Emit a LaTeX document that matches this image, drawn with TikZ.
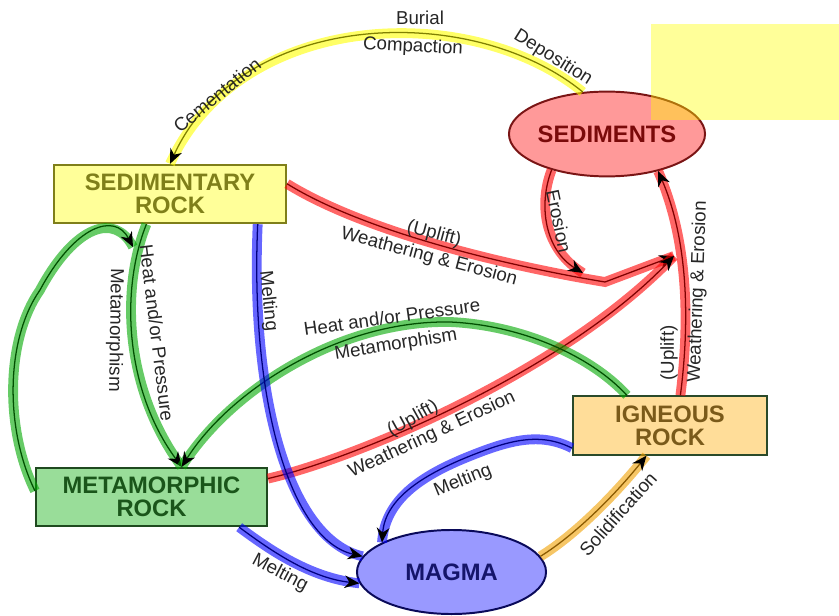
\documentclass[tikz,border=0pt]{standalone}
\usepackage{fontspec}
\setmainfont{Liberation Sans}
\usetikzlibrary{shapes.geometric, arrows.meta}
\definecolor{sedifill}{HTML}{FF9999}
\definecolor{sediline}{HTML}{7A1515}
\definecolor{seditext}{HTML}{7A0A0A}
\definecolor{sedrockfill}{HTML}{FFFF99}
\definecolor{sedrockline}{HTML}{7F7F1A}
\definecolor{metafill}{HTML}{99DD99}
\definecolor{metaline}{HTML}{1F4A1F}
\definecolor{metatext}{HTML}{1A551A}
\definecolor{ignfill}{HTML}{FFDD99}
\definecolor{ignline}{HTML}{2A4A2A}
\definecolor{igntext}{HTML}{7A5A1A}
\definecolor{magmafill}{HTML}{9999FF}
\definecolor{magmaline}{HTML}{0A0A5A}
\definecolor{magmatext}{HTML}{15156A}
\definecolor{bandyellow}{HTML}{FFFF00}
\definecolor{coreyellow}{HTML}{808000}
\definecolor{bandred}{HTML}{FF0000}
\definecolor{corered}{HTML}{800000}
\definecolor{bandgreen}{HTML}{00A800}
\definecolor{coregreen}{HTML}{004F00}
\definecolor{bandblue}{HTML}{0000FF}
\definecolor{coreblue}{HTML}{000080}
\definecolor{bandorange}{HTML}{F0A000}
\definecolor{coreorange}{HTML}{8B5A00}

\begin{document}
\begin{tikzpicture}[x=0.025cm, y=-0.025cm,
  rockbox/.style={draw, rectangle, line width=1.4pt, inner sep=0pt, minimum width=#1, minimum height=1.46cm, align=center, font=\fontsize{16.9}{16.4}\selectfont\bfseries},
  rockoval/.style={draw, ellipse, line width=1.4pt, inner sep=0pt, minimum width=4.75cm, minimum height=2.12cm, font=\fontsize{16.9}{16.4}\selectfont\bfseries},
  flow/.style 2 args={draw=#2, line width=0.9pt, -{Stealth[black, length=10.5pt, width=9pt]}, preaction={draw=#1, line width=7pt, opacity=0.6, arrows=-}},
  lbl/.style={font=\fontsize{13.3}{14}\selectfont, text=black!85, inner sep=1pt}]
  \useasboundingbox (0,0) rectangle (839,616);

  % Rock types and sediments
  \node[rockoval, fill=sedifill, draw=sediline, text=seditext] (sediments) at (607,134) {SEDIMENTS};
  \node[rockbox=5.8cm, fill=sedrockfill, draw=sedrockline, text=sedrockline] (sedrock) at (170,194) {SEDIMENTARY\\ROCK};
  \node[rockbox=5.775cm, fill=metafill, draw=metaline, text=metatext] (metrock) at (151.5,497) {METAMORPHIC\\ROCK};
  \node[rockbox=4.85cm, fill=ignfill, draw=ignline, text=igntext] (igrock) at (670,425.5) {IGNEOUS\\ROCK};
  \node[rockoval, minimum width=4.725cm, minimum height=2.1cm, fill=magmafill, draw=magmaline, text=magmatext] (magma) at (451.5,572) {MAGMA};

  % Points where arrows end on other arrows
  \coordinate (uplift) at (674,256);
  \coordinate (erosionend) at (583,273);
  \coordinate (loopend) at (133,247);

  % Sediments -> sedimentary rock
  \draw[flow={bandyellow}{coreyellow}] (sediments.120) .. controls (470,0) and (240,10) .. (sedrock.north);
  \node[lbl] (burial) at (420,18) {Burial};
  \node[lbl, rotate=-3] (compaction) at (413,47) {Compaction};
  \node[lbl, rotate=-32] (deposition) at (553,58) {Deposition};
  \node[lbl, rotate=39] (cementation) at (217,95) {Cementation};

  % Weathering and erosion (red)
  \draw[flow={bandred}{corered}] (sedrock.5) .. controls (370,235) and (520,268) .. (605,282) -- (uplift);
  \node[lbl, rotate=-15] (upliftsed) at (434,234) {(Uplift)};
  \node[lbl, rotate=-15] (weathersed) at (429,257) {Weathering \& Erosion};

  \draw[flow={bandred}{corered}] (metrock.9) .. controls (350,460) and (560,375) .. (uplift);
  \node[lbl, rotate=29] (upliftmeta) at (413,419) {(Uplift)};
  \node[lbl, rotate=25] (weathermeta) at (432,435) {Weathering \& Erosion};

  \draw[flow={bandred}{corered}] (igrock.71) .. controls (690,320) and (688,240) .. (sediments.-36);
  \node[lbl, rotate=90] (upliftign) at (669,353) {(Uplift)};
  \node[lbl, rotate=88] (weatherign) at (698,292) {Weathering \& Erosion};

  \draw[flow={bandred}{corered}] (sediments.-147) .. controls (538,205) and (545,250) .. (erosionend);
  \node[lbl, rotate=-78] (erosion) at (559,221) {Erosion};

  % Metamorphism (green)
  \draw[flow={bandgreen}{coregreen}] (sedrock.-128) .. controls (120,290) and (125,390) .. (metrock.45);
  \node[lbl, rotate=-83] (heatsed) at (157,333) {Heat and/or Pressure};
  \node[lbl, rotate=-91] (metased) at (115,330) {Metamorphism};

  \draw[flow={bandgreen}{coregreen}] (metrock.177) .. controls (5,430) and (5,340) .. (40,290) .. controls (75,225) and (115,212) .. (loopend);

  \draw[flow={bandgreen}{coregreen}] (igrock.145) .. controls (590,355) and (520,325) .. (450,322) .. controls (340,320) and (230,390) .. (metrock.45);
  \node[lbl, rotate=8] (heatign) at (392,317) {Heat and/or Pressure};
  \node[lbl, rotate=9] (metaign) at (396,345) {Metamorphism};

  % Melting (blue)
  \draw[flow={bandblue}{coreblue}] (sedrock.-19) .. controls (250,400) and (290,540) .. (magma.170);
  \node[lbl, rotate=-84] (meltsed) at (268,301) {Melting};

  \draw[flow={bandblue}{coreblue}] (metrock.-19) .. controls (270,550) and (310,578) .. (magma.187);
  \node[lbl, rotate=-28] (meltmeta) at (280,573) {Melting};

  \draw[flow={bandblue}{coreblue}] (igrock.-167) .. controls (540,432) and (510,440) .. (470,456) .. controls (420,476) and (385,500) .. (magma.157);
  \node[lbl, rotate=22] (meltign) at (463,481) {Melting};

  % Solidification (orange)
  \draw[flow={bandorange}{coreorange}] (magma.10) .. controls (575,535) and (615,495) .. (igrock.-128);
  \node[lbl, rotate=48] (solid) at (618,514) {Solidification};

  % Yellow patch top right
  \fill[bandyellow, opacity=0.4] (651,24) rectangle (839,120);
\end{tikzpicture}
\end{document}
